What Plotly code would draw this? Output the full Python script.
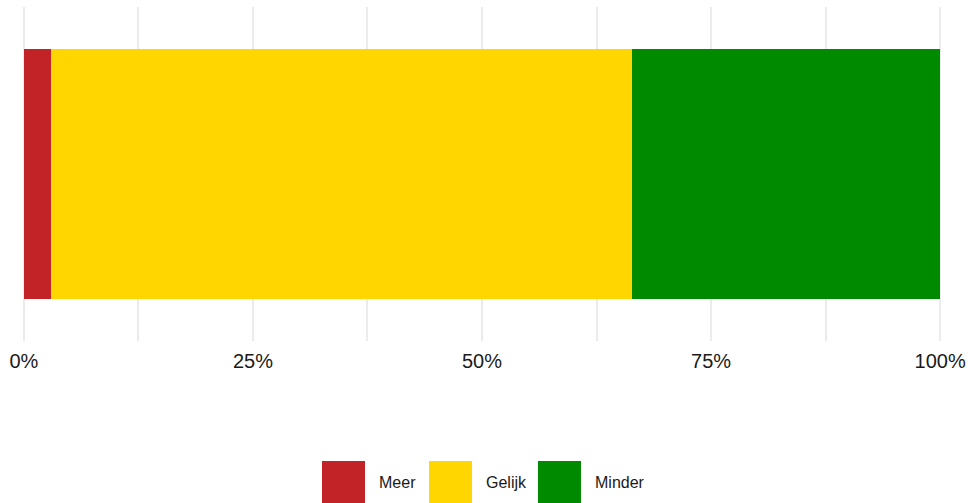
import plotly.graph_objects as go

# Data
categories = [""]
series_names = ["Meer", "Gelijk", "Minder"]
meer = [3.0]
gelijk = [63.4]
minder = [33.6]
tick_values = [0, 25, 50, 75, 100]
tick_labels = ["0%", "25%", "50%", "75%", "100%"]

colors = ["#C22326", "#FFD600", "#008A00"]
series_values = [meer, gelijk, minder]

fig = go.Figure()
for name, vals, col in zip(series_names, series_values, colors):
    fig.add_trace(go.Bar(
        x=vals, y=categories, name=name, orientation="h",
        marker=dict(color=col, line=dict(width=0)),
        width=0.9, showlegend=False,
        hovertemplate=name + ": %{x}%<extra></extra>",
    ))

# plot area geometry (pixels)
L, R, T, B = 22, 942, 7, 341
W, H = R - L, B - T

def px_x(p):
    return (p - L) / W

def px_y(p):
    return (B - p) / H

shapes = []
annotations = []
legend_sq_left = [322, 429, 538]
sq_size = 43
sq_top = 461
for name, col, x0 in zip(series_names, colors, legend_sq_left):
    shapes.append(dict(type="rect", xref="paper", yref="paper",
                       x0=px_x(x0), x1=px_x(x0 + sq_size),
                       y0=px_y(sq_top + sq_size), y1=px_y(sq_top),
                       fillcolor=col, line=dict(width=0), layer="above"))
    annotations.append(dict(xref="paper", yref="paper",
                            x=px_x(x0 + sq_size + 12), y=px_y(483),
                            text=name, showarrow=False,
                            xanchor="left", yanchor="middle",
                            font=dict(family="Liberation Sans, Arial", size=16, color="#1a1a1a")))

minor_vals = [12.5, 37.5, 62.5, 87.5]
all_vals = sorted(tick_values + minor_vals)
all_text = [tick_labels[tick_values.index(v)] if v in tick_values else "" for v in all_vals]

fig.update_layout(
    barmode="stack",
    width=968, height=503,
    margin=dict(l=L, r=968 - R, t=T, b=503 - B, autoexpand=False),
    plot_bgcolor="white", paper_bgcolor="white",
    font=dict(family="Liberation Sans, Arial", size=20, color="#1a1a1a"),
    xaxis=dict(range=[-0.2, 100.2], tickvals=all_vals, ticktext=all_text,
               showgrid=True, gridcolor="#EBEBEB", gridwidth=2,
               zeroline=False, showline=False, ticks="", automargin=False,
               ticklabelstandoff=6, fixedrange=True),
    yaxis=dict(range=[-0.6, 0.6], showgrid=False, zeroline=False, automargin=False,
               showticklabels=False, showline=False, ticks="", fixedrange=True),
    shapes=shapes, annotations=annotations,
    showlegend=False,
)

fig.write_html("out.html", config={"displayModeBar": False},
               post_script="document.body.style.margin='0';document.body.style.overflow='hidden';")
